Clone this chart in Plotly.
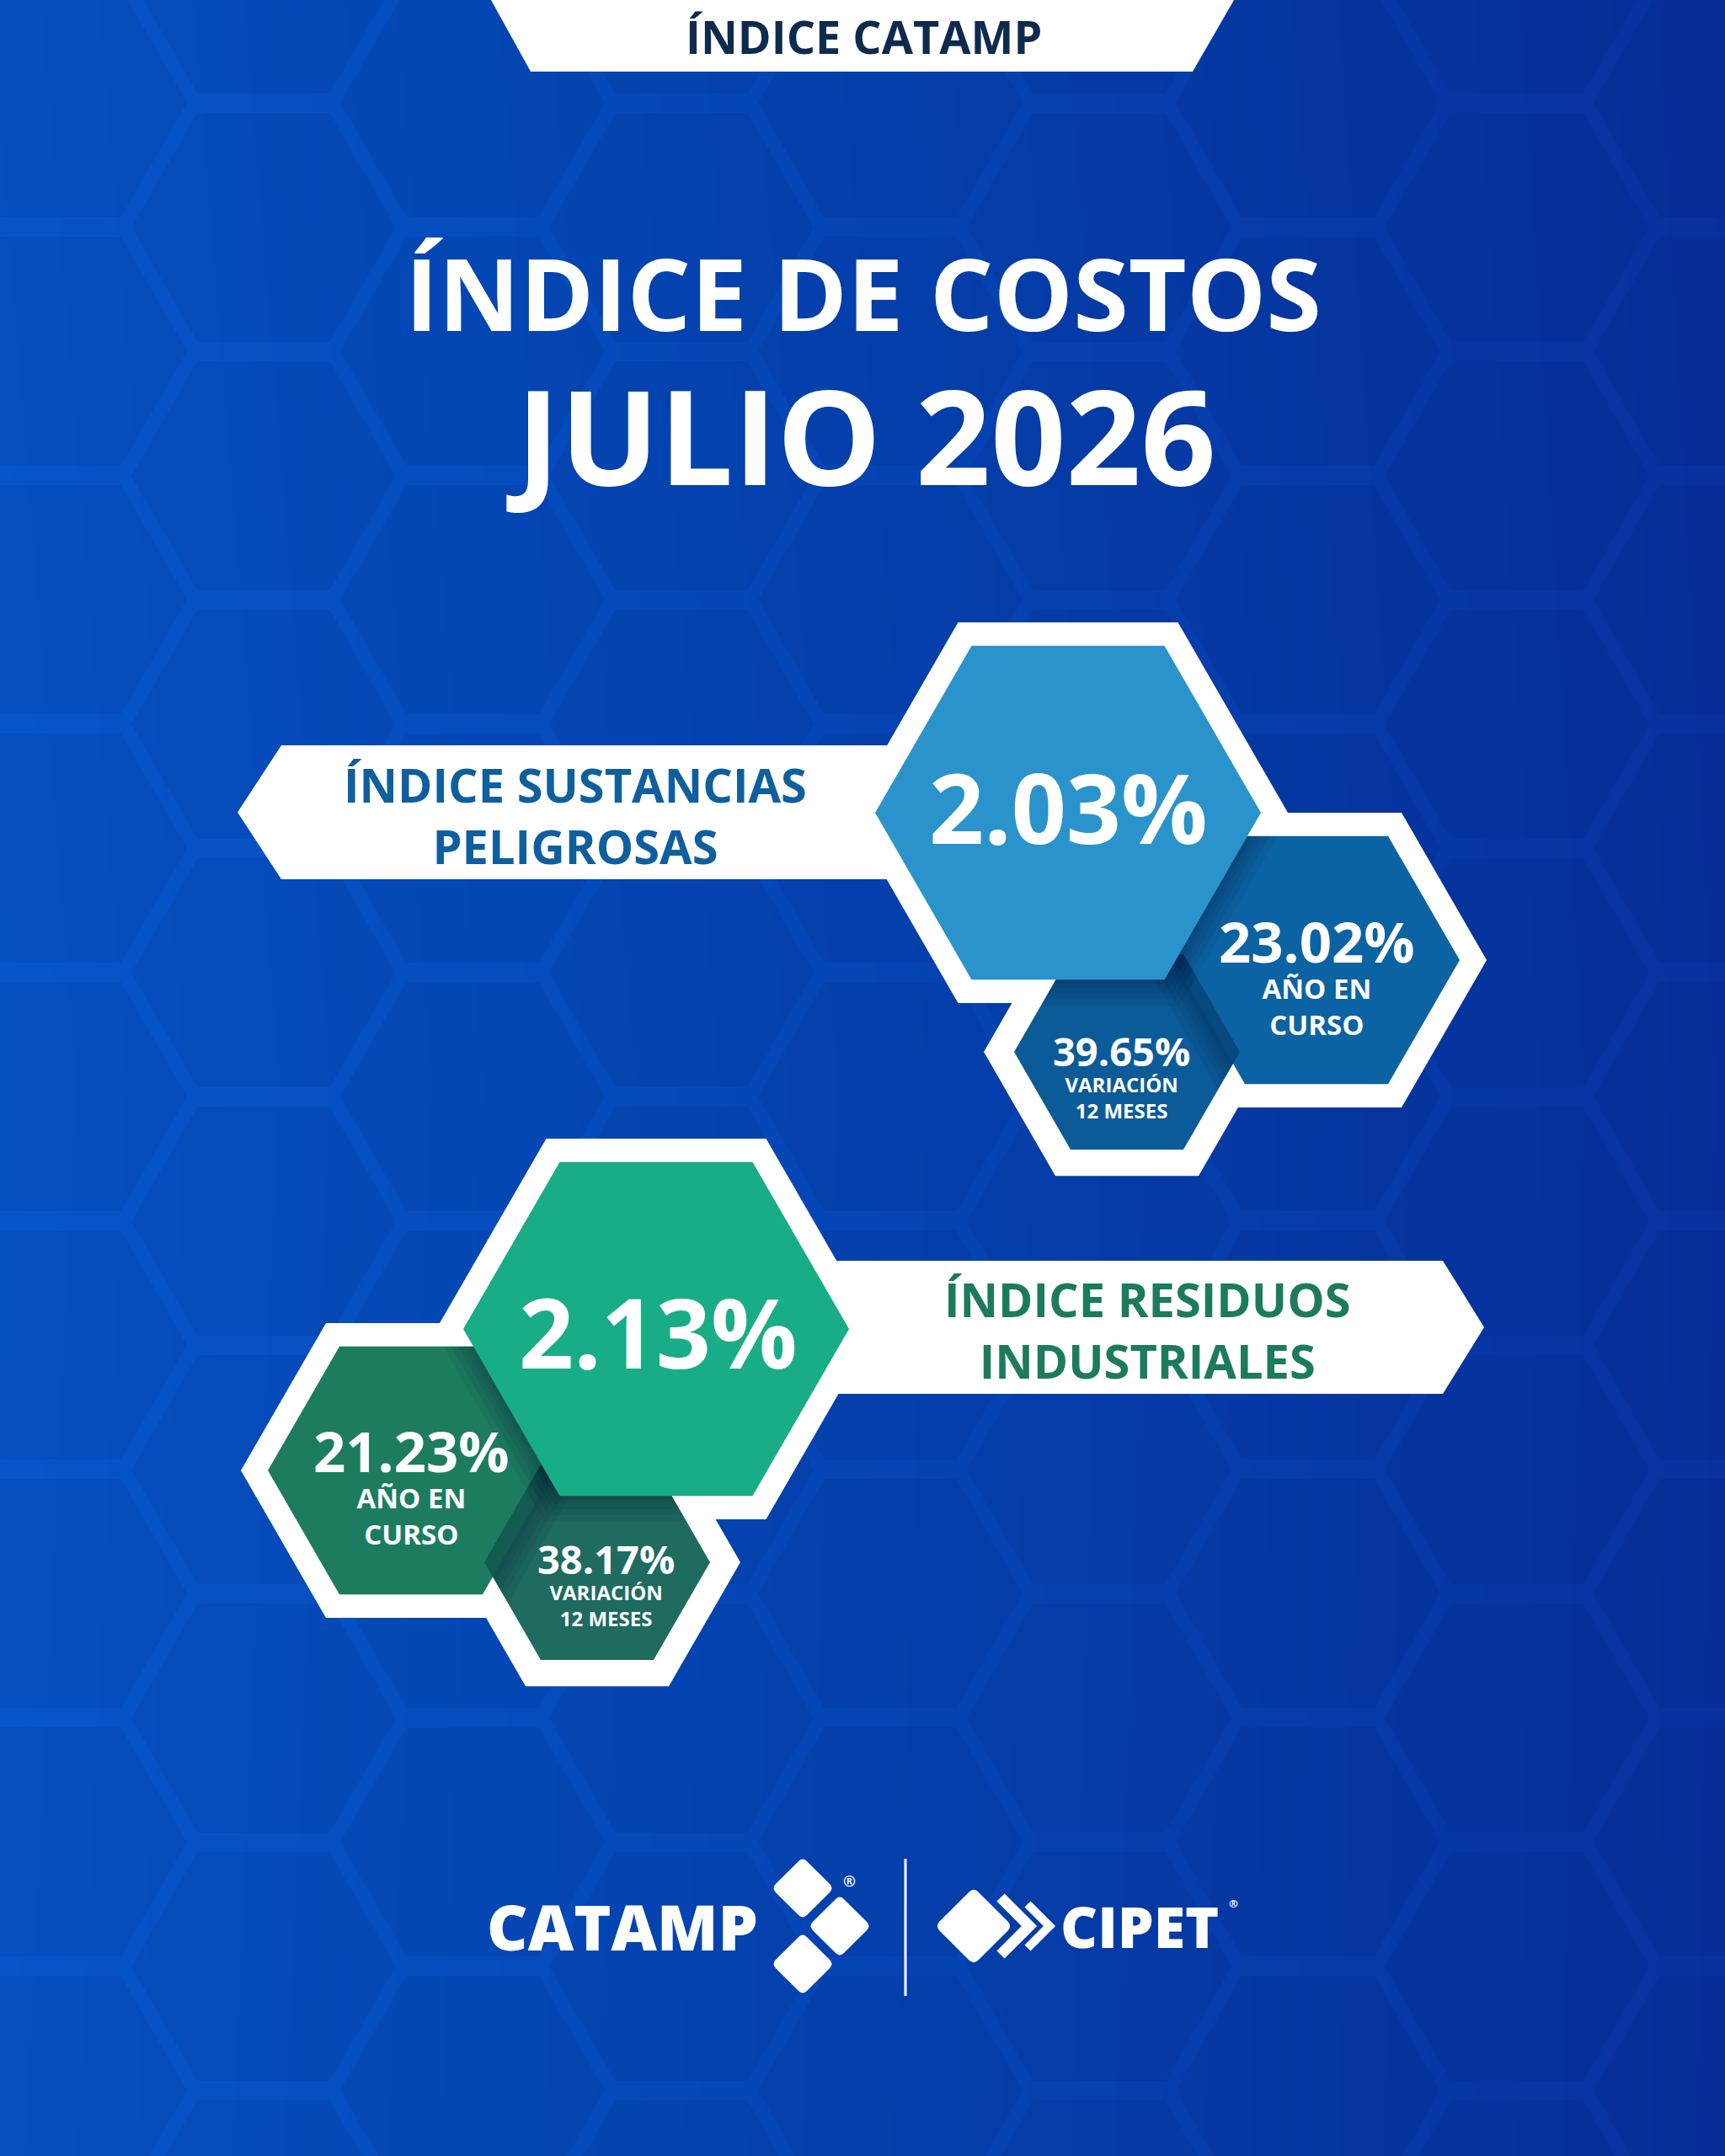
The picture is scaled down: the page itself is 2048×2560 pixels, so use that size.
import math
import plotly.graph_objects as go

W, H = 2048, 2560
FONT = "Open Sans"

# values shown on the poster
index_labels = [["ÍNDICE SUSTANCIAS", "PELIGROSAS"], ["ÍNDICE RESIDUOS", "INDUSTRIALES"]]
mensual = [2.03, 2.13]            # monthly index, %
anio_en_curso = [23.02, 21.23]    # year to date, %
variacion_12m = [39.65, 38.17]    # 12-month change, %
sub_anio = ["AÑO EN", "CURSO"]
sub_var = ["VARIACIÓN", "12 MESES"]
tab_text = "ÍNDICE CATAMP"
title_lines = ["ÍNDICE DE COSTOS", "JULIO 2026"]

# colours per group: big, medium, small hex, label text
palette = [
    dict(big="#2b93cb", med="#0c63a3", small="#0b5b98", label="#0f5f9f"),
    dict(big="#19ad87", med="#1d7c60", small="#1f6b5f", label="#1c7b5d"),
]

# geometry per group (centres in pixels, y downwards)
layout_groups = [
    dict(big=(1268, 965), med=(1563, 1140), small=(1338, 1249),
         banner=dict(y0=885, y1=1044, tip=282, corner=334, end=1150),
         val_big=(1268, 957), med_txt=(1563, 1155), small_txt=(1331, 1275),
         label=(683, 967)),
    dict(big=(779, 1578), med=(488, 1746), small=(709, 1855),
         banner=dict(y0=1497, y1=1655, tip=1762, corner=1713, end=900),
         val_big=(781, 1580), med_txt=(488, 1760), small_txt=(719, 1878),
         label=(1362, 1578)),
]
R_BIG, R_BIG_OUT = 229, 261
R_MED, R_MED_OUT = 170, 202
R_SMALL, R_SMALL_OUT = 134, 170


def hex_pts(cx, cy, r):
    return [(cx + r * math.cos(math.radians(60 * i)), cy + r * math.sin(math.radians(60 * i)))
            for i in range(6)]


def hexagon(cx, cy, r):
    pts = hex_pts(cx, cy, r)
    pts.append(pts[0])
    return [p[0] for p in pts], [p[1] for p in pts]


def clip_convex(subject, clipper):
    # Sutherland-Hodgman, clipper is convex
    area = sum(clipper[i - 1][0] * clipper[i][1] - clipper[i][0] * clipper[i - 1][1]
               for i in range(len(clipper)))
    sign = 1 if area > 0 else -1

    def inside(p, a, b):
        return sign * ((b[0] - a[0]) * (p[1] - a[1]) - (b[1] - a[1]) * (p[0] - a[0])) >= 0

    def cross_pt(p, q, a, b):
        x1, y1, x2, y2 = p[0], p[1], q[0], q[1]
        x3, y3, x4, y4 = a[0], a[1], b[0], b[1]
        den = (x1 - x2) * (y3 - y4) - (y1 - y2) * (x3 - x4)
        t = ((x1 - x3) * (y3 - y4) - (y1 - y3) * (x3 - x4)) / den
        return (x1 + t * (x2 - x1), y1 + t * (y2 - y1))

    out = subject
    for i in range(len(clipper)):
        a, b = clipper[i - 1], clipper[i]
        inp, out = out, []
        if not inp:
            break
        for j in range(len(inp)):
            p, q = inp[j - 1], inp[j]
            if inside(q, a, b):
                if not inside(p, a, b):
                    out.append(cross_pt(p, q, a, b))
                out.append(q)
            elif inside(p, a, b):
                out.append(cross_pt(p, q, a, b))
    return out


fig = go.Figure()


def polygon(xs, ys, color):
    fig.add_trace(go.Scatter(x=xs, y=ys, mode="lines", fill="toself", fillcolor=color,
                             line=dict(width=0, color=color), hoverinfo="skip",
                             showlegend=False))


def shadow(top_c, top_r, under_c, under_r):
    # soft shade cast by the upper hex onto the one beneath it
    for d in (5, 10, 16, 23, 31):
        pts = clip_convex(hex_pts(*top_c, top_r + d / 0.866), hex_pts(*under_c, under_r))
        if len(pts) > 2:
            pts.append(pts[0])
            polygon([p[0] for p in pts], [p[1] for p in pts], "rgba(0,15,50,0.065)")


# background gradient
fig.add_trace(go.Heatmap(
    x=[0, 1024, 2048], y=[0, 1280, 2560],
    z=[[0.05, 0.55, 1.0], [0.0, 0.5, 0.97], [0.03, 0.52, 0.98]],
    zmin=0, zmax=1, zsmooth="best", showscale=False, hoverinfo="skip",
    colorscale=[[0, "#0656ca"], [0.5, "#0545b5"], [1, "#08309d"]],
))

# faint honeycomb pattern
bx, by = [], []
for k in range(-1, 10):
    cx = 65 + 248 * k
    off = 122 if k % 2 == 0 else 270
    for j in range(-1, 10):
        xs, ys = hexagon(cx, off + 295 * j, 157)
        bx += xs + [None]
        by += ys + [None]
polygon(bx, by, "rgba(0,18,90,0.09)")

# top tab
polygon([583, 1465, 1416, 630, 583], [0, 0, 85, 85, 0], "white")

# white outlines and banners
for g in layout_groups:
    b = g["banner"]
    xs = [b["end"], b["corner"], b["tip"], b["corner"], b["end"], b["end"]]
    ys = [b["y0"], b["y0"], (b["y0"] + b["y1"]) / 2, b["y1"], b["y1"], b["y0"]]
    polygon(xs, ys, "white")
    polygon(*hexagon(*g["small"], R_SMALL_OUT), "white")
    polygon(*hexagon(*g["med"], R_MED_OUT), "white")
    polygon(*hexagon(*g["big"], R_BIG_OUT), "white")

# coloured hexes with shading where they overlap
for g, c in zip(layout_groups, palette):
    polygon(*hexagon(*g["small"], R_SMALL), c["small"])
    polygon(*hexagon(*g["med"], R_MED), c["med"])
    shadow(g["med"], R_MED, g["small"], R_SMALL)
    shadow(g["big"], R_BIG, g["small"], R_SMALL)
    shadow(g["big"], R_BIG, g["med"], R_MED)
    polygon(*hexagon(*g["big"], R_BIG), c["big"])

annotations = []


def text(x, y, s, size, color="white", weight=700):
    annotations.append(dict(x=x, y=y, text=s, showarrow=False, xanchor="center",
                            yanchor="middle", align="center",
                            font=dict(family=FONT, size=size, color=color, weight=weight)))


text(1025, 43, tab_text, 54, "#0e2a4f")
text(1025, 347, title_lines[0], 119)
text(1022, 515, title_lines[1], 156)

for i, (g, c) in enumerate(zip(layout_groups, palette)):
    text(*g["val_big"], f"{mensual[i]:.2f}%", 114)
    text(*g["med_txt"],
         f"<span style='font-size:67px'>{anio_en_curso[i]:.2f}%</span><br>" + "<br>".join(sub_anio),
         33)
    text(*g["small_txt"],
         f"<span style='font-size:47px'>{variacion_12m[i]:.2f}%</span><br>" + "<br>".join(sub_var),
         24)
    text(*g["label"], "<br>".join(index_labels[i]), 56, c["label"])

# logos
shapes = []


def diamond(cx, cy, d, r):
    pts = [(cx, cy - d), (cx + d, cy), (cx, cy + d), (cx - d, cy)]
    path = ""
    for i, (vx, vy) in enumerate(pts):
        px, py = pts[i - 1]
        nx, ny = pts[(i + 1) % 4]
        l1 = math.hypot(vx - px, vy - py)
        l2 = math.hypot(nx - vx, ny - vy)
        ax, ay = vx + (px - vx) * r / l1, vy + (py - vy) * r / l1
        bx_, by_ = vx + (nx - vx) * r / l2, vy + (ny - vy) * r / l2
        path += ("M" if i == 0 else "L") + f"{ax:.1f},{ay:.1f} Q{vx},{vy} {bx_:.1f},{by_:.1f} "
    return dict(type="path", path=path + "Z", fillcolor="white", line=dict(width=0),
                layer="above")


shapes.append(diamond(953, 2242, 37, 7))
shapes.append(diamond(997, 2287, 37, 7))
shapes.append(diamond(953, 2332, 37, 7))
shapes.append(diamond(1156, 2287, 46, 8))
shapes.append(dict(type="line", x0=1075, x1=1075, y0=2207, y1=2370,
                   line=dict(color="white", width=3), layer="above"))
shapes.append(dict(type="path", path="M1188,2253 L1222,2287 L1188,2321",
                   line=dict(color="white", width=13), layer="above"))
shapes.append(dict(type="path", path="M1220,2261 L1246,2287 L1220,2313",
                   line=dict(color="white", width=10), layer="above"))

text(739, 2287, "CATAMP", 75, weight=800)
text(1353, 2286, "CIPET", 68, weight=800)
text(1008, 2233, "®", 18)
text(1464, 2260, "®", 13)

fig.update_layout(
    width=W, height=H, margin=dict(l=0, r=0, t=0, b=0),
    paper_bgcolor="#0645b5", plot_bgcolor="#0645b5",
    xaxis=dict(range=[0, W], visible=False, fixedrange=True),
    yaxis=dict(range=[H, 0], visible=False, fixedrange=True),
    annotations=annotations, shapes=shapes, showlegend=False,
)

fig.write_html("out.html", config={"displayModeBar": False},
               post_script="document.body.style.margin='0';document.body.style.overflow='hidden';")
